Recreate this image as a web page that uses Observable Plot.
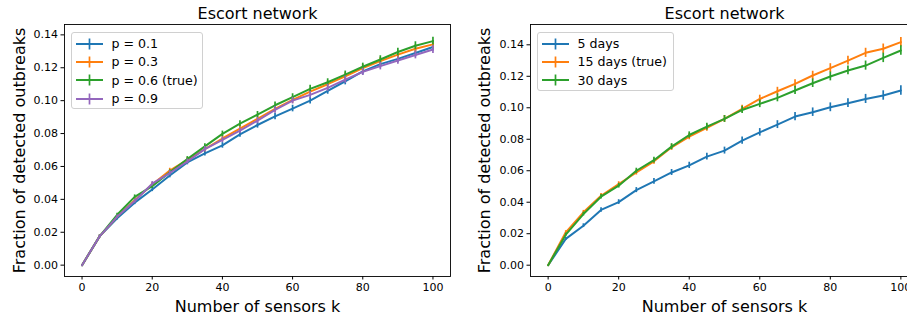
<!DOCTYPE html>
<html>
<head>
<meta charset="utf-8">
<script src="https://cdn.jsdelivr.net/npm/d3@7"></script>
<script src="https://cdn.jsdelivr.net/npm/@observablehq/plot@0.6"></script>
<style>
  html, body { margin: 0; padding: 0; background: #fff; }
  body { width: 907px; height: 320px; overflow: hidden; position: relative; font-family: "DejaVu Sans", sans-serif; }
  .panel { position: absolute; top: 0; height: 320px; }
  .panel > svg { max-width: none !important; }
  .legend { position: absolute; box-sizing: border-box; border: 1px solid #d0d0d0; border-radius: 3px; background: rgba(255,255,255,0.85); }
  .legend .row { position: absolute; left: 0; height: 18px; display: flex; align-items: center; font-size: 12.6px; color: #000; white-space: nowrap; }
  .legend svg { display: block; }
</style>
</head>
<body>
<div id="left" class="panel" style="left:0px;width:455px"></div>
<div id="right" class="panel" style="left:455px;width:463px"></div>
<script>
// ---- data ----
const ks = [0, 5, 10, 15, 20, 25, 30, 35, 40, 45, 50, 55, 60, 65, 70, 75, 80, 85, 90, 95, 100];
const xTicks = [0, 20, 40, 60, 80, 100];
const yTicks = [0, 0.02, 0.04, 0.06, 0.08, 0.10, 0.12, 0.14];
const title = "Escort network";
const xLabel = "Number of sensors k";
const yLabel = "Fraction of detected outbreaks";

const leftNames = ["p = 0.1", "p = 0.3", "p = 0.6 (true)", "p = 0.9"];
const leftP01 = [0, 0.0175, 0.0285, 0.0380, 0.0460, 0.0545, 0.0625, 0.0680, 0.0728, 0.0795, 0.0852, 0.0904, 0.0952, 0.1000, 0.1060, 0.1118, 0.1178, 0.1222, 0.1254, 0.1290, 0.1326];
const leftP03 = [0, 0.0175, 0.0295, 0.0395, 0.0490, 0.0575, 0.0640, 0.0705, 0.0770, 0.0830, 0.0890, 0.0950, 0.1005, 0.1055, 0.1100, 0.1148, 0.1198, 0.1240, 0.1280, 0.1316, 0.1342];
const leftP06 = [0, 0.0175, 0.0306, 0.0415, 0.0480, 0.0565, 0.0645, 0.0722, 0.0798, 0.0860, 0.0915, 0.0972, 0.1022, 0.1072, 0.1112, 0.1158, 0.1206, 0.1250, 0.1296, 0.1334, 0.1362];
const leftP09 = [0, 0.0175, 0.0295, 0.0390, 0.0495, 0.0560, 0.0630, 0.0705, 0.0762, 0.0818, 0.0879, 0.0944, 0.1000, 0.1035, 0.1078, 0.1128, 0.1175, 0.1210, 0.1244, 0.1278, 0.1311];
const leftErr = [0, 0.0008, 0.0010, 0.0012, 0.0013, 0.0014, 0.0015, 0.0016, 0.0017, 0.0018, 0.0019, 0.0020, 0.0020, 0.0021, 0.0021, 0.0022, 0.0022, 0.0023, 0.0023, 0.0024, 0.0024];

const rightNames = ["5 days", "15 days (true)", "30 days"];
const rightD5  = [0, 0.0167, 0.0251, 0.0351, 0.0401, 0.0477, 0.0532, 0.0589, 0.0634, 0.0690, 0.0728, 0.0791, 0.0844, 0.0893, 0.0944, 0.0972, 0.1003, 0.1029, 0.1056, 0.1078, 0.1110];
const rightD15 = [0, 0.0209, 0.0336, 0.0441, 0.0515, 0.0589, 0.0660, 0.0749, 0.0817, 0.0872, 0.0929, 0.0993, 0.1056, 0.1105, 0.1152, 0.1205, 0.1252, 0.1300, 0.1349, 0.1375, 0.1417];
const rightD30 = [0, 0.0194, 0.0325, 0.0435, 0.0505, 0.0600, 0.0667, 0.0753, 0.0827, 0.0880, 0.0929, 0.0986, 0.1025, 0.1063, 0.1110, 0.1156, 0.1199, 0.1237, 0.1268, 0.1317, 0.1364];
const rightErr = [0, 0.0010, 0.0012, 0.0014, 0.0015, 0.0016, 0.0018, 0.0019, 0.0020, 0.0021, 0.0022, 0.0023, 0.0024, 0.0025, 0.0026, 0.0027, 0.0028, 0.0028, 0.0029, 0.0030, 0.0030];

const palette = ["#1f77b4", "#ff7f0e", "#2ca02c", "#9467bd"];

// ---- drawing ----
function makePanel({width, marginLeft, marginRight, yDomain, series, names, err, yLabelDx}) {
  const marks = [];
  series.forEach((vals, i) => {
    const rows = ks.map((k, j) => ({k, y: vals[j], e: err[j], s: names[i]}));
    marks.push(Plot.line(rows, {x: "k", y: "y", stroke: palette[i], strokeWidth: 2}));
    marks.push(Plot.ruleX(rows, {x: "k", y1: d => d.y - d.e, y2: d => d.y + d.e, stroke: palette[i], strokeWidth: 1.7}));
  });
  return Plot.plot({
    width, height: 320,
    marginLeft, marginRight, marginTop: 24, marginBottom: 44,
    x: {domain: [-5, 105]},
    y: {domain: yDomain},
    style: {fontFamily: "DejaVu Sans", fontSize: "11px", color: "#000", background: "transparent", overflow: "visible", maxWidth: "none"},
    marks: [
      Plot.axisX({ticks: xTicks, tickSize: 3.5, tickPadding: 3, label: null, fontSize: 11}),
      Plot.axisY({ticks: yTicks, tickFormat: d3.format(".2f"), tickSize: 3.5, tickPadding: 3, label: null, fontSize: 11}),
      ...marks,
      Plot.frame({stroke: "#000", strokeWidth: 0.9}),
      Plot.text([title], {text: d => d, frameAnchor: "top", lineAnchor: "middle", textAnchor: "middle", dy: -10.5, fontSize: 16}),
      Plot.text([xLabel], {text: d => d, frameAnchor: "bottom", lineAnchor: "middle", textAnchor: "middle", dy: 30.5, fontSize: 16}),
      Plot.text([yLabel], {text: d => d, frameAnchor: "left", lineAnchor: "middle", textAnchor: "middle", dx: yLabelDx, rotate: -90, fontSize: 16})
    ]
  });
}

function makeLegend(container, names, left, top, width) {
  const box = document.createElement("div");
  box.className = "legend";
  box.style.left = left + "px";
  box.style.top = top + "px";
  box.style.width = width + "px";
  box.style.height = (names.length * 18.35 + 4.5) + "px";
  names.forEach((name, i) => {
    const row = document.createElement("div");
    row.className = "row";
    row.style.top = (2 + i * 18.35) + "px";
    row.style.left = "4px";
    const svg = d3.create("svg").attr("width", 36).attr("height", 18);
    svg.append("line").attr("x1", 0).attr("x2", 27).attr("y1", 9).attr("y2", 9).attr("stroke", palette[i]).attr("stroke-width", 2);
    svg.append("line").attr("x1", 13.5).attr("x2", 13.5).attr("y1", 3.5).attr("y2", 14.5).attr("stroke", palette[i]).attr("stroke-width", 1.7);
    row.appendChild(svg.node());
    const span = document.createElement("span");
    span.textContent = name;
    row.appendChild(span);
    box.appendChild(row);
  });
  container.appendChild(box);
}

const leftDiv = document.getElementById("left");
leftDiv.appendChild(makePanel({
  width: 455, marginLeft: 64, marginRight: 5,
  yDomain: [-0.0069, 0.1463],
  series: [leftP01, leftP03, leftP06, leftP09], names: leftNames, err: leftErr, yLabelDx: -45
}));
makeLegend(leftDiv, leftNames, 70.5, 31.5, 132.5);

const rightDiv = document.getElementById("right");
rightDiv.appendChild(makePanel({
  width: 463, marginLeft: 75, marginRight: 0,
  yDomain: [-0.00718, 0.1529],
  series: [rightD5, rightD15, rightD30], names: rightNames, err: rightErr, yLabelDx: -46
}));
makeLegend(rightDiv, rightNames, 81.5, 31.5, 137);
</script>
</body>
</html>
